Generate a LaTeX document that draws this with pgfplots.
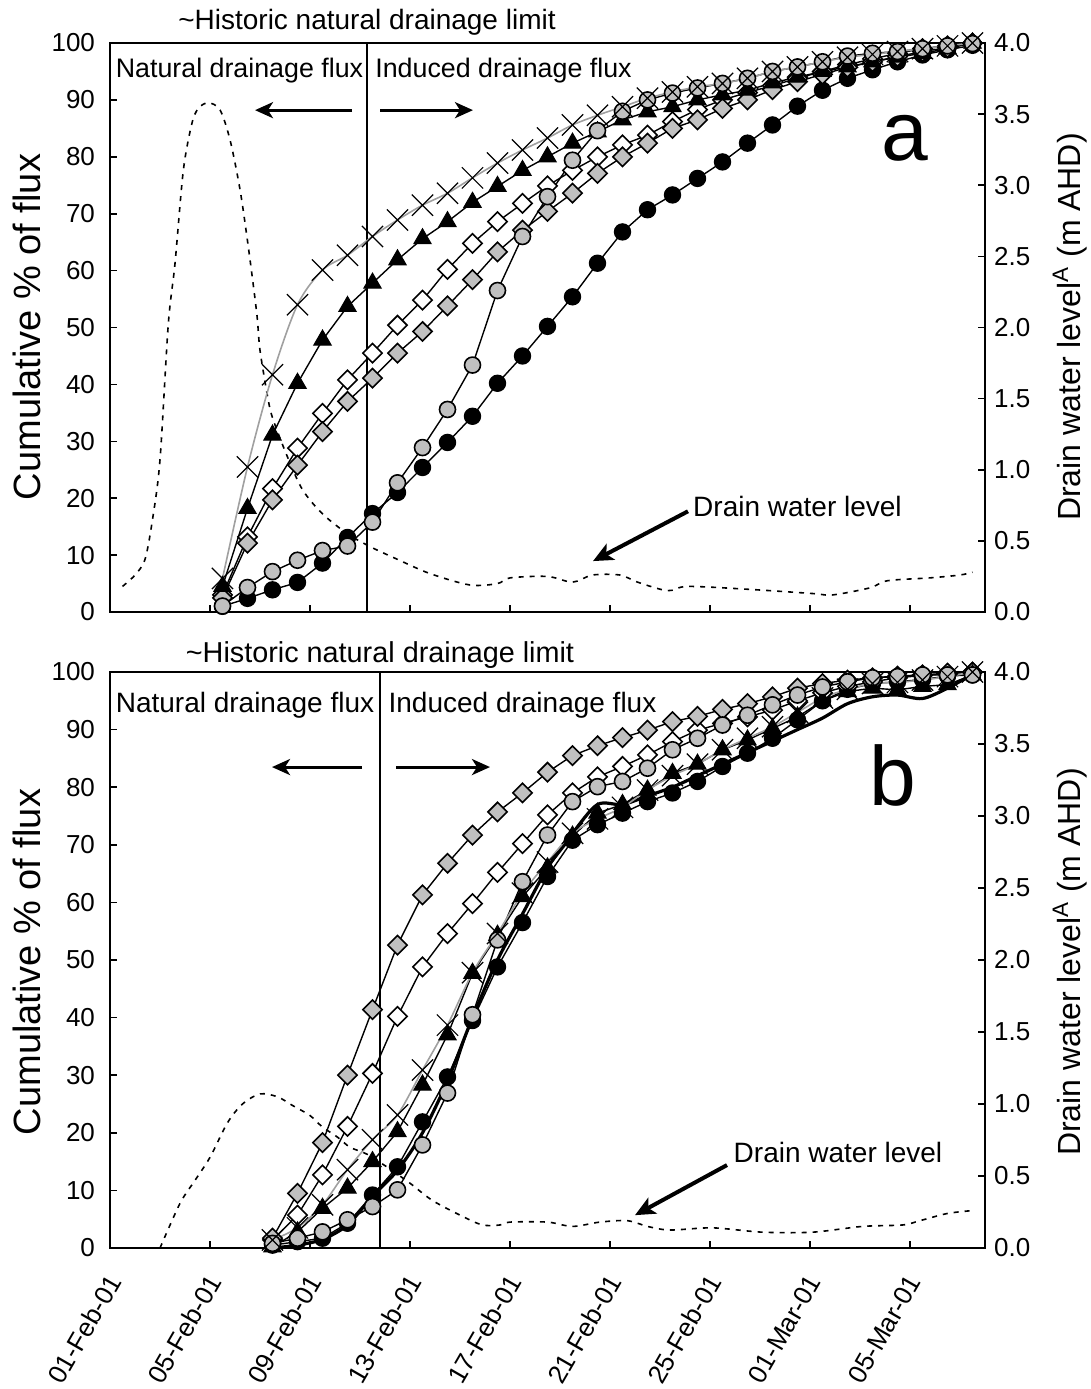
\documentclass[border=0pt]{standalone}
\usepackage{pgfplots}
\pgfplotsset{compat=1.18}
\usepackage{fontspec}
\setmainfont{Liberation Sans}
\usetikzlibrary{arrows.meta}
\definecolor{silv}{RGB}{192,192,192}
\definecolor{lgray}{RGB}{160,160,160}
\newcommand{\tf}{\fontsize{13}{15}\selectfont}
\newcommand{\af}{\fontsize{14}{16}\selectfont}
\newcommand{\afa}{\fontsize{13.4}{16}\selectfont}
\tikzset{
  arr/.style={line width=1.5pt, -{Stealth[length=9pt, width=8pt, inset=2.5pt]}},
  darr/.style={line width=2pt, -{Stealth[length=10pt, width=9pt, inset=2.5pt]}},
}
\pgfplotsset{
  base/.style={
    scale only axis, width=437.5pt, xmin=0, xmax=35,
    tick align=inside, major tick length=3.5pt,
    axis line style={line width=0.9pt},
    every tick/.style={black, line width=0.8pt},
    /pgf/number format/assume math mode=true,
    tick label style={font=\tf},
    clip=false, anchor=south west,
  },
  leftax/.style={base, ymin=0, ymax=100, ytick={0,10,...,100},
    xtick={0,4,...,32}, xtick pos=bottom, ytick pos=left,
    yticklabel style={xshift=-4pt}},
  rightax/.style={base, ymin=0, ymax=4, ytick={0,0.5,...,4},
    axis y line*=right, axis x line=none,
    yticklabel style={xshift=1pt,/pgf/number format/.cd,fixed,fixed zerofill,precision=1}},
  bc/.style={black, line width=0.7pt, mark=*, mark size=4pt, mark options={fill=black, draw=black, line width=0.7pt}},
  gc/.style={black, line width=0.7pt, mark=*, mark size=4pt, mark options={fill=silv, draw=black, line width=0.8pt}},
  wd/.style={black, line width=0.7pt, mark=square*, mark size=3.4pt, mark options={rotate=45, fill=white, draw=black, line width=0.8pt}},
  gd/.style={black, line width=0.7pt, mark=square*, mark size=3.4pt, mark options={rotate=45, fill=silv, draw=black, line width=0.8pt}},
  bt/.style={black, line width=0.7pt, mark=triangle*, mark size=5pt, mark options={fill=black, draw=black, line width=0.5pt}},
  cr/.style={lgray, line width=0.8pt, smooth, mark=x, mark size=7.5pt, mark options={draw=black, line width=0.6pt}},
  dl/.style={black, line width=0.8pt, dash pattern=on 2.5pt off 3pt, smooth, tension=0.5, no marks},
}
\begin{document}
\begin{tikzpicture}
\useasboundingbox (0,0) rectangle (545.5pt,-694.5pt);
% ================= panel a =================
\begin{axis}[rightax, at={(55pt,-306pt)}, height=284.5pt]
\addplot[dl] coordinates {(0.5,0.18) (1.0,0.26) (1.4,0.37) (1.7,0.65) (2.0,1.07) (2.33,2.02) (2.6,2.45) (2.93,3.1) (3.27,3.43) (3.53,3.54) (3.93,3.58) (4.4,3.53) (4.8,3.32) (5.2,2.97) (5.53,2.57) (5.87,2.1) (6.0,1.84) (6.33,1.49) (6.53,1.35) (7.1,1.09) (7.7,0.86) (8.5,0.69) (9.5,0.55) (10.4,0.46) (11.5,0.37) (12.8,0.27) (14.4,0.19) (15.5,0.2) (16.0,0.24) (17.5,0.25) (18.5,0.21) (19.3,0.26) (20.4,0.26) (21.1,0.21) (22.3,0.15) (23.1,0.18) (25.5,0.16) (28.1,0.13) (28.9,0.12) (30.4,0.17) (31.1,0.22) (32.8,0.24) (34.0,0.26) (34.5,0.28)};
\end{axis}
\begin{axis}[leftax, at={(55pt,-306pt)}, height=284.5pt, xticklabels={}]
\addplot[black, line width=0.9pt] coordinates {(10.27,0) (10.27,100)};
\addplot[bc] coordinates {(4.5,1.0) (5.5,2.4) (6.5,3.9) (7.5,5.2) (8.5,8.6) (9.5,13.1) (10.5,17.3) (11.5,21.0) (12.5,25.4) (13.5,29.8) (14.5,34.4) (15.5,40.2) (16.5,45.0) (17.5,50.2) (18.5,55.4) (19.5,61.3) (20.5,66.8) (21.5,70.7) (22.5,73.3) (23.5,76.2) (24.5,79.1) (25.5,82.4) (26.5,85.6) (27.5,88.9) (28.5,91.7) (29.5,93.8) (30.5,95.3) (31.5,96.7) (32.5,97.9) (33.5,98.8) (34.5,99.6)};
\addplot[wd] coordinates {(4.5,3.0) (5.5,13.2) (6.5,21.7) (7.5,28.8) (8.5,34.9) (9.5,40.8) (10.5,45.5) (11.5,50.4) (12.5,54.8) (13.5,60.2) (14.5,64.8) (15.5,68.6) (16.5,71.8) (17.5,74.9) (18.5,77.6) (19.5,80.0) (20.5,82.1) (21.5,83.8) (22.5,86.2) (23.5,88.3) (24.5,90.0) (25.5,91.3) (26.5,92.5) (27.5,93.8) (28.5,95.0) (29.5,96.2) (30.5,97.2) (31.5,98.2) (32.5,99.0) (33.5,99.5) (34.5,100)};
\addplot[gd] coordinates {(4.5,2.5) (5.5,12.1) (6.5,19.7) (7.5,25.8) (8.5,31.7) (9.5,37.0) (10.5,41.1) (11.5,45.5) (12.5,49.3) (13.5,53.8) (14.5,58.4) (15.5,63.3) (16.5,67.1) (17.5,70.4) (18.5,73.6) (19.5,77.1) (20.5,80.0) (21.5,82.4) (22.5,85.0) (23.5,86.5) (24.5,88.5) (25.5,90.0) (26.5,91.8) (27.5,93.2) (28.5,94.5) (29.5,95.7) (30.5,96.7) (31.5,97.6) (32.5,98.5) (33.5,99.2) (34.5,100)};
\addplot[bt] coordinates {(4.5,4.5) (5.5,18.2) (6.5,31.1) (7.5,40.2) (8.5,47.8) (9.5,53.7) (10.5,57.8) (11.5,61.9) (12.5,65.6) (13.5,68.6) (14.5,72.0) (15.5,74.8) (16.5,77.6) (17.5,80.0) (18.5,82.4) (19.5,84.4) (20.5,86.5) (21.5,87.9) (22.5,88.8) (23.5,90.0) (24.5,90.9) (25.5,91.7) (26.5,93.0) (27.5,94.0) (28.5,95.0) (29.5,95.8) (30.5,96.7) (31.5,97.5) (32.5,98.2) (33.5,99.0) (34.5,100)};
\addplot[gc] coordinates {(4.5,1.05) (5.5,4.3) (6.5,7.1) (7.5,9.1) (8.5,10.8) (9.5,11.6) (10.5,15.8) (11.5,22.7) (12.5,28.9) (13.5,35.6) (14.5,43.4) (15.5,56.5) (16.5,66.0) (17.5,73.0) (18.5,79.4) (19.5,84.6) (20.5,88.0) (21.5,90.0) (22.5,91.2) (23.5,92.1) (24.5,92.9) (25.5,93.8) (26.5,95.0) (27.5,95.8) (28.5,96.7) (29.5,97.7) (30.5,98.2) (31.5,98.5) (32.5,99.0) (33.5,99.5) (34.5,99.9)};
\addplot[cr] coordinates {(4.5,5.9) (5.5,25.5) (6.5,41.7) (7.5,54.0) (8.5,60.1) (9.5,62.7) (10.5,66.0) (11.5,68.9) (12.5,71.5) (13.5,73.6) (14.5,76.3) (15.5,78.9) (16.5,81.2) (17.5,83.3) (18.5,85.6) (19.5,87.3) (20.5,88.8) (21.5,90.3) (22.5,91.4) (23.5,92.3) (24.5,92.9) (25.5,93.8) (26.5,95.0) (27.5,95.8) (28.5,96.7) (29.5,97.5) (30.5,98.0) (31.5,98.5) (32.5,99.0) (33.5,99.5) (34.5,100)};
\node[font=\af] at (axis cs:10.28,103.7) {\textasciitilde Historic natural drainage limit};
\node[font=\afa] at (axis cs:5.18,95.1) {Natural drainage flux};
\node[font=\afa] at (axis cs:15.74,95.1) {Induced drainage flux};
\draw[arr] (axis cs:9.68,88.2) -- (axis cs:5.8,88.2);
\draw[arr] (axis cs:10.8,88.2) -- (axis cs:14.52,88.2);
\node[font=\fontsize{42}{46}\selectfont] at (axis cs:31.8,83.3) {a};
\node[font=\af] at (axis cs:27.5,18.6) {Drain water level};
\draw[darr] (axis cs:23.12,17.7) -- (axis cs:19.32,8.95);
\end{axis}
% ================= panel b =================
\begin{axis}[rightax, at={(55pt,-624pt)}, height=288pt]
\addplot[dl] coordinates {(2.0,0.0) (2.8,0.31) (3.4,0.47) (4.0,0.63) (4.7,0.87) (5.3,1.0) (6.0,1.07) (6.7,1.05) (7.3,0.99) (8.0,0.92) (8.5,0.84) (9.1,0.77) (9.6,0.70) (10.3,0.65) (11.1,0.56) (12.0,0.45) (12.9,0.33) (14.1,0.22) (14.9,0.16) (15.6,0.16) (16.0,0.18) (17.5,0.18) (18.5,0.15) (19.6,0.18) (20.7,0.19) (21.5,0.15) (22.4,0.125) (24.1,0.14) (26.1,0.11) (28.1,0.11) (30.1,0.15) (31.7,0.16) (32.4,0.19) (33.5,0.24) (34.5,0.26)};
\end{axis}
\begin{axis}[leftax, at={(55pt,-624pt)}, height=288pt,
  xticklabels={01-Feb-01,05-Feb-01,09-Feb-01,13-Feb-01,17-Feb-01,21-Feb-01,25-Feb-01,01-Mar-01,05-Mar-01},
  xticklabel style={yshift=-11.5pt, xshift=4pt, rotate=60, anchor=east, font=\tf}]
\addplot[black, line width=0.9pt] coordinates {(10.8,0) (10.8,100)};
\addplot[black, line width=1.6pt, smooth] coordinates {(6.5,0.0) (7.5,0.5) (8.5,1.5) (9.5,4.0) (10.5,9.0) (11.5,13.5) (12.5,20.0) (13.5,29.0) (14.5,40.0) (15.5,50.0) (16.5,58.0) (17.5,66.0) (18.5,72.0) (19.5,77.0) (20.5,77.0) (21.5,78.5) (22.5,80.0) (23.5,82.0) (24.5,84.0) (25.5,86.0) (26.5,88.0) (27.5,90.0) (28.5,92.0) (29.5,94.5) (30.5,95.7) (31.5,96.0) (32.5,95.4) (33.5,97.2) (34.5,99.6)};
\addplot[bc] coordinates {(6.5,0.5) (7.5,1.1) (8.5,1.7) (9.5,4.3) (10.5,9.2) (11.5,14.1) (12.5,21.9) (13.5,29.7) (14.5,39.5) (15.5,48.8) (16.5,56.5) (17.5,64.5) (18.5,70.8) (19.5,73.5) (20.5,75.5) (21.5,77.5) (22.5,79.0) (23.5,81.0) (24.5,83.6) (25.5,85.9) (26.5,88.5) (27.5,91.7) (28.5,95.0) (29.5,97.0) (30.5,98.0) (31.5,98.3) (32.5,98.7) (33.5,99.3) (34.5,99.5)};
\addplot[wd] coordinates {(6.5,1.4) (7.5,5.7) (8.5,12.7) (9.5,21.1) (10.5,30.3) (11.5,40.2) (12.5,48.8) (13.5,54.6) (14.5,59.8) (15.5,65.2) (16.5,70.2) (17.5,75.2) (18.5,79.0) (19.5,81.8) (20.5,83.6) (21.5,85.6) (22.5,87.9) (23.5,89.9) (24.5,91.1) (25.5,92.2) (26.5,93.4) (27.5,95.0) (28.5,96.4) (29.5,97.5) (30.5,98.3) (31.5,99.0) (32.5,99.4) (33.5,99.7) (34.5,100)};
\addplot[gd] coordinates {(6.5,1.7) (7.5,9.5) (8.5,18.3) (9.5,30.0) (10.5,41.4) (11.5,52.6) (12.5,61.3) (13.5,66.8) (14.5,71.7) (15.5,75.7) (16.5,79.0) (17.5,82.6) (18.5,85.5) (19.5,87.2) (20.5,88.6) (21.5,89.9) (22.5,91.4) (23.5,92.3) (24.5,93.5) (25.5,94.5) (26.5,95.7) (27.5,97.2) (28.5,98.0) (29.5,98.6) (30.5,99.0) (31.5,99.3) (32.5,99.5) (33.5,99.8) (34.5,100)};
\addplot[bt] coordinates {(6.5,0.2) (7.5,2.8) (8.5,6.9) (9.5,10.4) (10.5,15.0) (11.5,20.2) (12.5,28.3) (13.5,37.0) (14.5,47.7) (15.5,54.3) (16.5,61.0) (17.5,66.0) (18.5,71.5) (19.5,75.5) (20.5,77.0) (21.5,79.5) (22.5,82.4) (23.5,84.0) (24.5,86.5) (25.5,88.2) (26.5,90.2) (27.5,92.2) (28.5,95.0) (29.5,96.6) (30.5,97.2) (31.5,96.9) (32.5,97.5) (33.5,97.8) (34.5,99.5)};
\addplot[gc] coordinates {(6.5,0.8) (7.5,1.7) (8.5,2.8) (9.5,4.9) (10.5,7.2) (11.5,10.1) (12.5,17.9) (13.5,26.9) (14.5,40.5) (15.5,53.5) (16.5,63.6) (17.5,71.7) (18.5,77.5) (19.5,80.1) (20.5,81.0) (21.5,83.3) (22.5,86.5) (23.5,88.5) (24.5,90.8) (25.5,92.5) (26.5,94.3) (27.5,96.0) (28.5,97.4) (29.5,98.3) (30.5,99.0) (31.5,99.2) (32.5,99.5) (33.5,99.5) (34.5,99.5)};
\addplot[cr] coordinates {(6.5,1.4) (7.5,3.5) (8.5,7.5) (9.5,13.6) (10.5,18.8) (11.5,23.1) (12.5,30.9) (13.5,38.7) (14.5,47.8) (15.5,54.6) (16.5,61.6) (17.5,67.0) (18.5,72.0) (19.5,74.5) (20.5,76.5) (21.5,79.5) (22.5,82.0) (23.5,84.0) (24.5,86.5) (25.5,88.5) (26.5,90.5) (27.5,93.0) (28.5,95.5) (29.5,97.0) (30.5,98.0) (31.5,98.2) (32.5,98.6) (33.5,99.2) (34.5,100)};
\node[font=\fontsize{14.4}{16}\selectfont] at (axis cs:10.8,102.95) {\textasciitilde Historic natural drainage limit};
\node[font=\af] at (axis cs:5.4,94.3) {Natural drainage flux};
\node[font=\af] at (axis cs:16.5,94.3) {Induced drainage flux};
\draw[arr] (axis cs:10.08,83.5) -- (axis cs:6.48,83.5);
\draw[arr] (axis cs:11.44,83.5) -- (axis cs:15.2,83.5);
\node[font=\fontsize{42}{46}\selectfont] at (axis cs:31.32,82.1) {b};
\node[font=\af] at (axis cs:29.12,16.5) {Drain water level};
\draw[darr] (axis cs:24.68,14.4) -- (axis cs:21.0,5.7);
\end{axis}
% axis titles
\node[rotate=90, font=\fontsize{19}{21}\selectfont] at (13.5pt,-163.5pt) {Cumulative \% of flux};
\node[rotate=90, font=\fontsize{19}{21}\selectfont] at (13.5pt,-481pt) {Cumulative \% of flux};
\node[rotate=90, font=\fontsize{16}{18}\selectfont] at (535pt,-163.5pt) {Drain water level\textsuperscript{A} (m AHD)};
\node[rotate=90, font=\fontsize{16}{18}\selectfont] at (535pt,-481pt) {Drain water level\textsuperscript{A} (m AHD)};
\end{tikzpicture}
\end{document}
